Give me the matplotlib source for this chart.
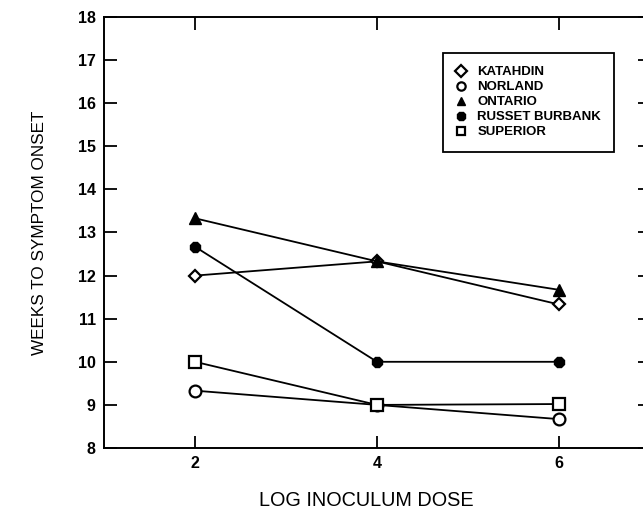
import matplotlib
matplotlib.use("Agg")
import matplotlib.pyplot as plt

plt.rcParams["font.family"] = ["Liberation Sans", "DejaVu Sans"]

dose = [2, 4, 6]
katahdin = [12.0, 12.33, 11.33]
norland = [9.33, 9.0, 8.67]
ontario = [13.33, 12.33, 11.67]
russet_burbank = [12.67, 10.0, 10.0]
superior = [10.0, 9.0, 9.02]

y_ticks = list(range(8, 19))
x_ticks = [2, 4, 6]

fig = plt.figure(figsize=(6.43, 5.12), dpi=100)
ax = fig.add_axes([104 / 643, 1 - 448 / 512, 546 / 643, 431 / 512])

lw = 1.3
ax.plot(dose, katahdin, color="black", linewidth=lw, marker="D", markersize=6,
        markerfacecolor="white", markeredgewidth=1.6, label="KATAHDIN")
ax.plot(dose, norland, color="black", linewidth=lw, marker="o", markersize=8.5,
        markerfacecolor="white", markeredgewidth=1.6, label="NORLAND")
ax.plot(dose, ontario, color="black", linewidth=lw, marker="^", markersize=8,
        markerfacecolor="black", label="ONTARIO")
ax.plot(dose, russet_burbank, color="black", linewidth=lw, marker="8", markersize=8,
        markerfacecolor="black", label="RUSSET BURBANK")
ax.plot(dose, superior, color="black", linewidth=lw, marker="s", markersize=8,
        markerfacecolor="white", markeredgewidth=1.6, label="SUPERIOR")

ax.set_xlim(1, 7)
ax.set_ylim(8, 18)
ax.set_xticks(x_ticks)
ax.set_yticks(y_ticks)
ax.tick_params(axis="both", direction="in", length=9, width=1.3,
               top=True, right=True, labelsize=11.5, pad=6)
for lab in ax.get_xticklabels() + ax.get_yticklabels():
    lab.set_fontweight("bold")
for s in ax.spines.values():
    s.set_linewidth(1.4)

ax.set_xlabel("LOG INOCULUM DOSE", fontsize=14.3)
ax.xaxis.set_label_coords(0.481, -0.10)
ax.set_ylabel("WEEKS TO SYMPTOM ONSET", fontsize=12.3, labelpad=22)

leg = ax.legend(loc="upper left", bbox_to_anchor=((443 - 104) / 546, (448 - 53) / 431),
                frameon=True, fancybox=False, edgecolor="black", framealpha=1,
                prop={"weight": "bold", "size": 9.5}, handlelength=0.8,
                handletextpad=0.8, labelspacing=0.21, borderpad=1.0, borderaxespad=0)
leg.get_frame().set_linewidth(1.3)
for h in leg.legend_handles:
    h.set_linestyle("none")
    h.set_markersize(6)

fig.savefig("out.png", dpi=100)
